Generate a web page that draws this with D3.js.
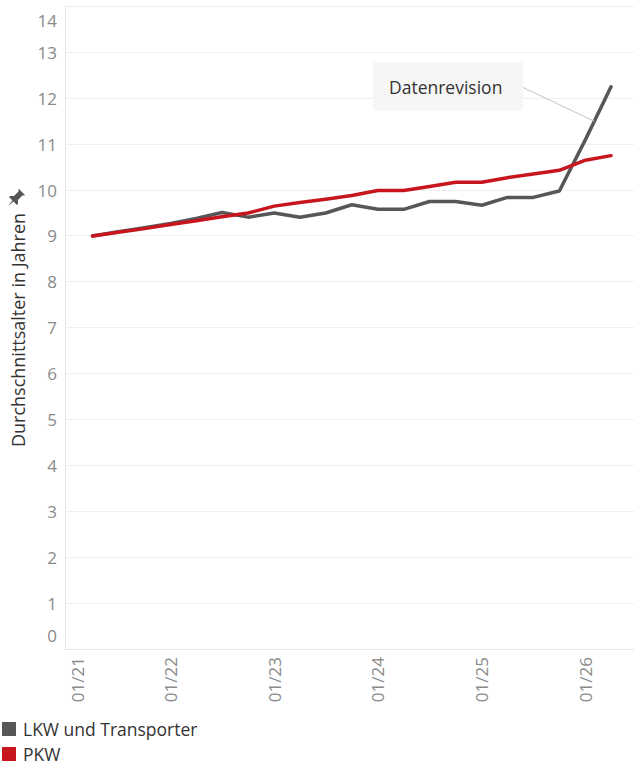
<html>
  <head>
    <meta charset="utf-8">
    <title>Durchschnittsalter</title>
  </head>
  <style>
    body { margin: 0; background: #fff; font-family: "Open Sans", sans-serif; }
    .grid line { stroke: #efefef; stroke-width: 1px; shape-rendering: crispEdges; }
    .axisLine { stroke: #e6e6e6; stroke-width: 1px; shape-rendering: crispEdges; }
    .tick text { fill: #8a8a8a; font-size: 17px; font-family: "Open Sans", sans-serif; }
    .line { fill: none; stroke-width: 3.5px; stroke-linejoin: round; stroke-linecap: round; }
  </style>
  <body>
    <div id="chart"></div>
    <script src="https://cdn.jsdelivr.net/npm/d3@7"></script>
    <script>

      // quarterly dates (MM/YY) and average age in years
      var dates   = ["04/21","07/21","10/21","01/22","04/22","07/22","10/22","01/23","04/23","07/23","10/23",
                     "01/24","04/24","07/24","10/24","01/25","04/25","07/25","10/25","01/26","04/26"];
      var lkw     = [9.00, 9.09, 9.18, 9.27, 9.38, 9.51, 9.41, 9.50, 9.41, 9.50, 9.68,
                     9.58, 9.58, 9.75, 9.75, 9.67, 9.84, 9.84, 9.98, 11.10, 12.25];
      var pkw     = [9.00, 9.08, 9.16, 9.25, 9.33, 9.42, 9.50, 9.65, 9.73, 9.80, 9.88,
                     9.99, 9.99, 10.08, 10.17, 10.17, 10.27, 10.35, 10.43, 10.65, 10.75];

      var seriesNames  = ["LKW und Transporter", "PKW"];
      var seriesColors = ["#575757", "#c8161e"];
      var xTicks       = ["01/21","01/22","01/23","01/24","01/25","01/26"];
      var yTicks       = [0,1,2,3,4,5,6,7,8,9,10,11,12,13,14];

      var annoText  = "Datenrevision";
      var annoPoint = ["02/26", 11.5];

      var parse = d3.timeParse("%m/%y");

      var W = 634, H = 765;
      var margin = { top: 6.5, right: 0, bottom: 116, left: 65 };
      var width  = W - margin.left - margin.right,
          height = H - margin.top - margin.bottom;

      var x = d3.scaleTime()
                .domain([new Date(2020, 11, 25), new Date(2026, 5, 21)])
                .range([0, width]);
      var y = d3.scaleLinear()
                .domain([0, 14])
                .range([height, 0]);

      var svg = d3.select("#chart").append("svg")
                  .attr("width", W)
                  .attr("height", H);

      var g = svg.append("g")
                 .attr("transform", "translate(" + margin.left + "," + margin.top + ")");

      // horizontal grid
      g.append("g").attr("class", "grid")
        .selectAll("line").data(yTicks.filter(function(d){ return d > 0; }))
        .enter().append("line")
        .attr("x1", 0).attr("x2", width)
        .attr("y1", function(d){ return y(d); })
        .attr("y2", function(d){ return y(d); });

      g.append("line").attr("class", "axisLine")
        .attr("x1", 0).attr("x2", 0).attr("y1", 0).attr("y2", height);
      g.append("line").attr("class", "axisLine")
        .attr("x1", 0).attr("x2", width).attr("y1", height).attr("y2", height);

      // y axis
      var gY = g.append("g")
                .call(d3.axisLeft(y).tickValues(yTicks).tickSize(0).tickPadding(8));
      gY.select(".domain").remove();
      gY.selectAll(".tick text")
        .attr("dy", "0.35em")
        .attr("y", function(d){
          var p = y(d);
          return Math.min(Math.max(p, 14), height - 13) - p;
        });

      // x axis, rotated labels
      var gX = g.append("g")
                .attr("transform", "translate(0," + height + ")")
                .call(d3.axisBottom(x).tickValues(xTicks.map(parse)).tickSize(0).tickFormat(d3.timeFormat("%m/%y")));
      gX.select(".domain").remove();
      gX.selectAll(".tick text")
        .attr("transform", function(d){
          var px = Math.max(x(d), 13);
          return "translate(" + (px - x(d)) + ",0) rotate(-90)";
        })
        .attr("x", -8).attr("y", 0).attr("dy", "0.35em")
        .style("text-anchor", "end");

      // lines
      var line = d3.line()
                   .x(function(d){ return x(d.date); })
                   .y(function(d){ return y(d.v); });

      [lkw, pkw].forEach(function(vals, i){
        var pts = vals.map(function(v, j){ return { date: parse(dates[j]), v: v }; });
        g.append("path")
          .attr("class", "line")
          .attr("stroke", seriesColors[i])
          .attr("d", line(pts));
      });
      // red on top like reference
      g.selectAll(".line").filter(function(d, i){ return i === 1; }).raise();

      // annotation
      var ax = x(parse(annoPoint[0])), ay = y(annoPoint[1]);
      var box = { x: 308, y: 56, w: 150, h: 48 };
      g.append("line")
        .attr("x1", box.x + box.w).attr("y1", box.y + 25)
        .attr("x2", ax).attr("y2", ay)
        .attr("stroke", "#c4c4c4").attr("stroke-width", 1);
      g.append("rect")
        .attr("x", box.x).attr("y", box.y)
        .attr("width", box.w).attr("height", box.h)
        .attr("fill", "#f6f6f6");
      g.append("text")
        .attr("x", box.x + 16).attr("y", box.y + 31)
        .attr("fill", "#333").style("font-size", "17.5px").style("font-weight", 500)
        .text(annoText);

      // y title + pin
      svg.append("text")
        .attr("transform", "translate(25," + 330 + ") rotate(-90)")
        .style("text-anchor", "middle")
        .style("font-size", "18px")
        .attr("fill", "#333")
        .text("Durchschnittsalter in Jahren");
      svg.append("path")
        .attr("transform", "translate(16,198) rotate(45) scale(1.4)")
        .attr("d", "M-3,-6 L3,-6 L3,-5 L2,-5 L2,0 L4,2 L4,3 L0.6,3 L0,8 L-0.6,3 L-4,3 L-4,2 L-2,0 L-2,-5 L-3,-5 Z")
        .attr("fill", "#555");

      // legend
      var leg = svg.append("g").attr("transform", "translate(2,722)");
      seriesNames.forEach(function(name, i){
        var row = leg.append("g").attr("transform", "translate(0," + (i * 25) + ")");
        row.append("rect").attr("width", 14).attr("height", 14).attr("fill", seriesColors[i]);
        row.append("text").attr("x", 21).attr("y", 14)
          .style("font-size", "17.5px").attr("fill", "#333").text(name);
      });

    </script>
  </body>
</html>
